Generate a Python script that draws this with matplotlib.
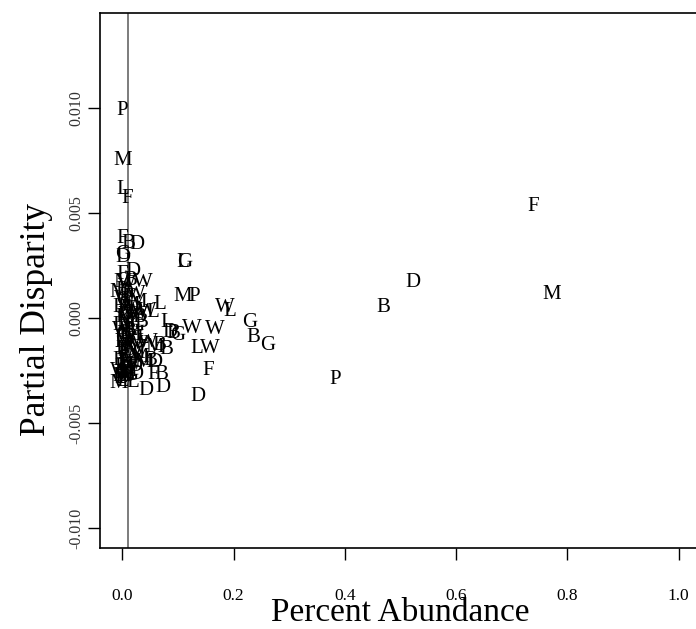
import matplotlib
matplotlib.use("Agg")
import matplotlib.pyplot as plt

# group code, percent abundance, partial disparity
groups = [
    "F", "M", "D", "B", "P",
    "G", "B", "G", "W", "L",
    "M", "P", "G", "L", "W", "W", "L", "W", "F", "D",
    "D", "D", "F", "B", "L",
    "P", "M", "L", "F",
    "F", "B", "D", "G", "D", "F", "D", "M", "W", "W", "B",
    "L", "W", "L", "L", "D", "G", "B", "W", "M", "B", "B", "M", "D", "B",
    "B", "D", "F", "G", "L", "M", "P", "W",
    "D", "W", "B", "F", "M", "L", "G", "P",
    "W", "B", "L", "D", "G", "F", "M", "W",
    "P", "B", "D", "L", "W", "G", "F", "M",
    "L", "W", "D", "B", "M", "F", "G", "W",
    "D", "B", "M", "L", "W", "F",
    "M", "W", "B", "D", "L", "G", "F", "P",
    "W", "M", "D", "B", "G", "L", "W", "M",
    "B", "F", "D", "W", "L", "M", "E", "L",
    "W", "B", "L", "W", "M", "D",
]
abundance = [
    0.738, 0.772, 0.522, 0.470, 0.382,
    0.229, 0.235, 0.262, 0.184, 0.193,
    0.109, 0.130, 0.112, 0.108, 0.125, 0.166, 0.134, 0.157, 0.154, 0.136,
    0.042, 0.073, 0.055, 0.071, 0.018,
    0.000, 0.001, 0.000, 0.008,
    0.000, 0.010, 0.026, 0.000, 0.001, 0.000, 0.019, 0.000, 0.008, 0.037, 0.015,
    0.067, 0.044, 0.055, 0.080, 0.085, 0.100, 0.092, 0.046, 0.058, 0.080, 0.066, 0.038, 0.058, 0.050,
    0.000, 0.006, 0.012, 0.003, 0.009, 0.016, 0.001, 0.019,
    0.004, 0.011, 0.000, 0.014, 0.007, 0.002, 0.017, 0.010,
    0.000, 0.013, 0.005, 0.009, 0.001, 0.015, 0.003, 0.021,
    0.008, 0.000, 0.012, 0.004, 0.018, 0.006, 0.001, 0.011,
    0.002, 0.014, 0.000, 0.007, 0.010, 0.003, 0.016, 0.005,
    0.000, 0.009, 0.002, 0.006, 0.012, 0.001,
    -0.006, 0.002, -0.005, 0.004, -0.006, 0.003, -0.004, 0.001,
    0.024, 0.028, 0.022, 0.030, 0.026, 0.033, 0.029, 0.025,
    -0.005, 0.020, 0.024, -0.004, 0.001, -0.006, -0.007, 0.017,
    0.030, 0.034, 0.036, 0.027, 0.031, 0.023,
]
disparity = [
    0.00529, 0.00114, 0.00167, 0.00052, -0.00295,
    -0.00020, -0.00095, -0.00129, 0.00052, 0.00030,
    0.00100, 0.00100, 0.00262, 0.00262, -0.00048, -0.00057, -0.00143, -0.00143, -0.00252, -0.00376,
    -0.00343, -0.00333, -0.00271, -0.00271, -0.00305,
    0.00990, 0.00752, 0.00610, 0.00570,
    0.00380, 0.00357, 0.00348, 0.00300, 0.00286, 0.00205, 0.00220, 0.00167, 0.00167, 0.00167, 0.00180,
    0.00062, 0.00029, 0.00024, -0.00020, -0.00071, -0.00081, -0.00076, -0.00119, -0.00140, -0.00152, -0.00130, -0.00210, -0.00210, -0.00200,
    0.00130, 0.00115, 0.00098, 0.00082, 0.00071, 0.00058, 0.00044, 0.00031,
    0.00022, 0.00012, 0.00003, -0.00008, -0.00017, -0.00029, -0.00038, -0.00047,
    -0.00058, -0.00066, -0.00077, -0.00088, -0.00097, -0.00108, -0.00116, -0.00126,
    -0.00137, -0.00148, -0.00156, -0.00167, -0.00178, -0.00186, -0.00197, -0.00206,
    -0.00217, -0.00226, -0.00238, -0.00247, -0.00256, -0.00266, -0.00274, -0.00283,
    -0.00290, -0.00277, -0.00262, -0.00245, -0.00233, -0.00289,
    0.00120, 0.00090, 0.00050, 0.00010, -0.00035, -0.00075, -0.00115, -0.00160,
    0.00110, 0.00075, 0.00040, 0.00000, -0.00040, -0.00085, -0.00125, -0.00170,
    -0.00200, -0.00240, -0.00270, -0.00255, -0.00300, -0.00310, -0.00280, -0.00060,
    0.00020, -0.00020, -0.00100, -0.00150, -0.00190, -0.00230,
]

xticks = [0.0, 0.2, 0.4, 0.6, 0.8, 1.0]
yticks = [-0.010, -0.005, 0.000, 0.005, 0.010]
serif = "Liberation Serif"

fig = plt.figure(figsize=(6.96, 6.29), dpi=100)
W, H = 696, 629
ax = fig.add_axes([100 / W, (H - 548) / H, 601 / W, 535 / H])
ax.set_xlim(-0.04, 1.04)
ax.set_ylim(-0.01095, 0.01452)

for g, a, d in zip(groups, abundance, disparity):
    ax.text(a, d, g, ha="center", va="center", fontsize=15,
            family=serif, color="black", clip_on=True)

ax.axvline(0.01, color="#666666", lw=1.2)

for s in ax.spines.values():
    s.set_linewidth(1.2)

ax.set_xticks(xticks)
ax.set_xticklabels(["%.1f" % v for v in xticks], family=serif, fontsize=12.5)
ax.set_yticks(yticks)
ax.set_yticklabels(["%.3f" % v for v in yticks], family=serif, fontsize=11.5,
                   rotation=90, va="center", color="#333333")
ax.tick_params(direction="out", length=8.5, width=1.0)
ax.tick_params(axis="x", pad=20)
ax.tick_params(axis="y", pad=3)

fig.text(400 / W, 1 - 621 / H, "Percent Abundance", ha="center", va="baseline",
         family=serif, fontsize=24)
fig.text(37 / W, 1 - 320 / H, "Partial Disparity", ha="center", va="center",
         rotation=90, family=serif, fontsize=25.5)

fig.savefig("out.png", dpi=100)
